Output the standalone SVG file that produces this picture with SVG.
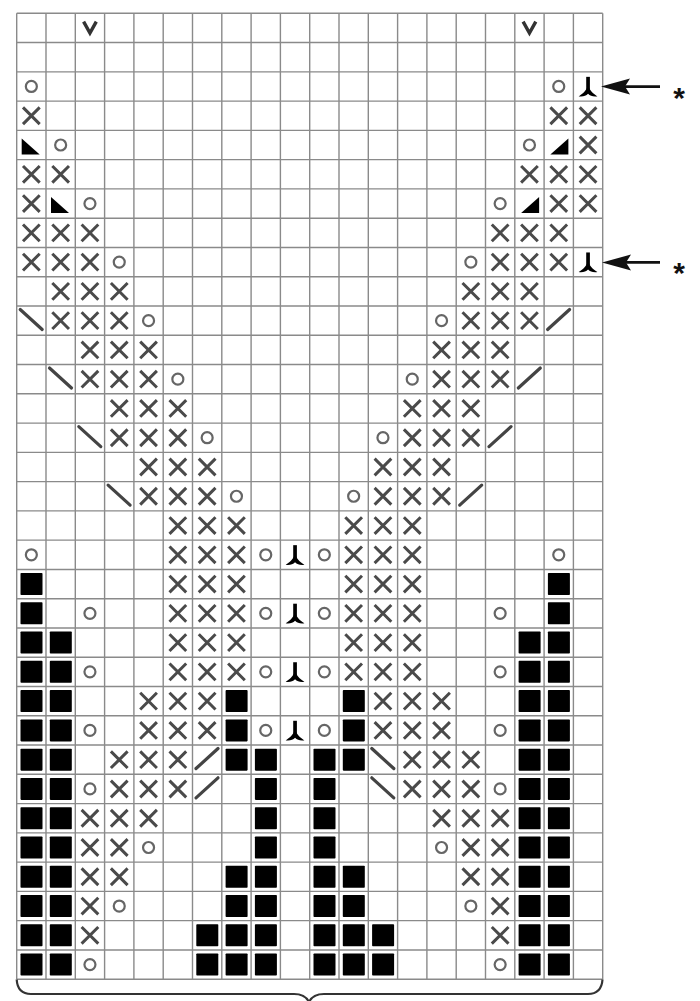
<svg xmlns="http://www.w3.org/2000/svg" width="700" height="1001" viewBox="0 0 700 1001">
<style>
.grid{stroke:#8a8a8a;stroke-width:1.4;fill:none}
.xs{stroke:#4a4a4a;stroke-width:3;fill:none;stroke-linecap:butt}
.os{stroke:#666;stroke-width:2.2;fill:none}
.vs{stroke:#333;stroke-width:3.4;fill:none;stroke-linejoin:miter}
.ds{stroke:#444;stroke-width:3.2;fill:none;stroke-linecap:round}
.blk{fill:#000}
.arr{stroke:#111;stroke-width:2.8;fill:none}
.ast{font-family:"Liberation Sans",Arial,sans-serif;font-size:30px;font-weight:bold;fill:#111}
.brace{stroke:#333;stroke-width:2.2;fill:none}
</style>
<defs>
<path id="X" class="xs" d="M6.3 6.3L23 23M23 6.3L6.3 23"/>
<circle id="O" class="os" cx="14.65" cy="14.63" r="5.5"/>
<path id="V" class="vs" d="M8.3 8.3L14.65 19.8L21 8.3"/>
<path id="TL" class="blk" d="M5 8L5 24L23 24Z"/>
<path id="TR" class="blk" d="M24.3 8L24.3 24L6.3 24Z"/>
<path id="BS" class="ds" d="M3.5 3.5L25.5 23.5"/>
<path id="FS" class="ds" d="M3.5 23.5L25.5 3.5"/>
<rect id="SQ" class="blk" x="3.8" y="3.6" width="22" height="22" rx="0.8"/>
<g id="Y">
<path class="blk" d="M12.8 5H16.5V18H12.8Z"/>
<path class="blk" d="M14.65 12.5C13.8 18 10.5 21 5.3 24.6C9.5 25.2 12.5 24.2 14.65 22C16.8 24.2 19.8 25.2 24 24.6C18.8 21 15.5 18 14.65 12.5Z"/>
</g>
</defs>
<rect x="0" y="0" width="700" height="1001" fill="#fff"/>
<g id="grid">
<path class="grid" d="M16.7 13.3V979.2M46 13.3V979.2M75.3 13.3V979.2M104.6 13.3V979.2M133.9 13.3V979.2M163.2 13.3V979.2M192.5 13.3V979.2M221.8 13.3V979.2M251.1 13.3V979.2M280.4 13.3V979.2M309.7 13.3V979.2M339 13.3V979.2M368.3 13.3V979.2M397.6 13.3V979.2M426.9 13.3V979.2M456.2 13.3V979.2M485.5 13.3V979.2M514.8 13.3V979.2M544.1 13.3V979.2M573.4 13.3V979.2M602.7 13.3V979.2"/>
<path class="grid" d="M16.7 13.3H602.7M16.7 42.57H602.7M16.7 71.84H602.7M16.7 101.11H602.7M16.7 130.38H602.7M16.7 159.65H602.7M16.7 188.92H602.7M16.7 218.19H602.7M16.7 247.46H602.7M16.7 276.73H602.7M16.7 306H602.7M16.7 335.27H602.7M16.7 364.54H602.7M16.7 393.81H602.7M16.7 423.08H602.7M16.7 452.35H602.7M16.7 481.62H602.7M16.7 510.89H602.7M16.7 540.16H602.7M16.7 569.43H602.7M16.7 598.7H602.7M16.7 627.97H602.7M16.7 657.24H602.7M16.7 686.51H602.7M16.7 715.78H602.7M16.7 745.05H602.7M16.7 774.32H602.7M16.7 803.59H602.7M16.7 832.86H602.7M16.7 862.13H602.7M16.7 891.4H602.7M16.7 920.67H602.7M16.7 949.94H602.7M16.7 979.21H602.7"/>
</g>
<g id="slipped">
<use href="#V" x="75.3" y="13.3"/><use href="#V" x="514.8" y="13.3"/>
</g>
<g id="yarnovers">
<use href="#O" x="16.7" y="71.84"/><use href="#O" x="544.1" y="71.84"/>
<use href="#O" x="46" y="130.38"/><use href="#O" x="514.8" y="130.38"/>
<use href="#O" x="75.3" y="188.92"/><use href="#O" x="485.5" y="188.92"/>
<use href="#O" x="104.6" y="247.46"/><use href="#O" x="456.2" y="247.46"/>
<use href="#O" x="133.9" y="306"/><use href="#O" x="426.9" y="306"/>
<use href="#O" x="163.2" y="364.54"/><use href="#O" x="397.6" y="364.54"/>
<use href="#O" x="192.5" y="423.08"/><use href="#O" x="368.3" y="423.08"/>
<use href="#O" x="221.8" y="481.62"/><use href="#O" x="339" y="481.62"/>
<use href="#O" x="16.7" y="540.16"/><use href="#O" x="251.1" y="540.16"/><use href="#O" x="309.7" y="540.16"/><use href="#O" x="544.1" y="540.16"/>
<use href="#O" x="75.3" y="598.7"/><use href="#O" x="251.1" y="598.7"/><use href="#O" x="309.7" y="598.7"/><use href="#O" x="485.5" y="598.7"/>
<use href="#O" x="75.3" y="657.24"/><use href="#O" x="251.1" y="657.24"/><use href="#O" x="309.7" y="657.24"/><use href="#O" x="485.5" y="657.24"/>
<use href="#O" x="75.3" y="715.78"/><use href="#O" x="251.1" y="715.78"/><use href="#O" x="309.7" y="715.78"/><use href="#O" x="485.5" y="715.78"/>
<use href="#O" x="75.3" y="774.32"/><use href="#O" x="485.5" y="774.32"/>
<use href="#O" x="133.9" y="832.86"/><use href="#O" x="426.9" y="832.86"/>
<use href="#O" x="104.6" y="891.4"/><use href="#O" x="456.2" y="891.4"/>
<use href="#O" x="75.3" y="949.94"/><use href="#O" x="485.5" y="949.94"/>
</g>
<g id="decreases">
<use href="#Y" x="573.4" y="71.84"/><use href="#Y" x="573.4" y="247.46"/>
<use href="#Y" x="280.4" y="540.16"/><use href="#Y" x="280.4" y="598.7"/><use href="#Y" x="280.4" y="657.24"/><use href="#Y" x="280.4" y="715.78"/>
<use href="#TL" x="16.7" y="130.38"/><use href="#TL" x="46" y="188.92"/>
<use href="#TR" x="544.1" y="130.38"/><use href="#TR" x="514.8" y="188.92"/>
<use href="#BS" x="16.7" y="306"/><use href="#BS" x="46" y="364.54"/><use href="#BS" x="75.3" y="423.08"/><use href="#BS" x="104.6" y="481.62"/>
<use href="#BS" x="368.3" y="745.05"/><use href="#BS" x="368.3" y="774.32"/>
<use href="#FS" x="544.1" y="306"/><use href="#FS" x="514.8" y="364.54"/><use href="#FS" x="485.5" y="423.08"/><use href="#FS" x="456.2" y="481.62"/>
<use href="#FS" x="192.5" y="745.05"/><use href="#FS" x="192.5" y="774.32"/>
</g>
<g id="crosses">
<use href="#X" x="16.7" y="101.11"/><use href="#X" x="544.1" y="101.11"/><use href="#X" x="573.4" y="101.11"/>
<use href="#X" x="573.4" y="130.38"/>
<use href="#X" x="16.7" y="159.65"/><use href="#X" x="46" y="159.65"/><use href="#X" x="514.8" y="159.65"/><use href="#X" x="544.1" y="159.65"/><use href="#X" x="573.4" y="159.65"/>
<use href="#X" x="16.7" y="188.92"/><use href="#X" x="544.1" y="188.92"/><use href="#X" x="573.4" y="188.92"/>
<use href="#X" x="16.7" y="218.19"/><use href="#X" x="46" y="218.19"/><use href="#X" x="75.3" y="218.19"/><use href="#X" x="485.5" y="218.19"/><use href="#X" x="514.8" y="218.19"/><use href="#X" x="544.1" y="218.19"/>
<use href="#X" x="16.7" y="247.46"/><use href="#X" x="46" y="247.46"/><use href="#X" x="75.3" y="247.46"/><use href="#X" x="485.5" y="247.46"/><use href="#X" x="514.8" y="247.46"/><use href="#X" x="544.1" y="247.46"/>
<use href="#X" x="46" y="276.73"/><use href="#X" x="75.3" y="276.73"/><use href="#X" x="104.6" y="276.73"/><use href="#X" x="456.2" y="276.73"/><use href="#X" x="485.5" y="276.73"/><use href="#X" x="514.8" y="276.73"/>
<use href="#X" x="46" y="306"/><use href="#X" x="75.3" y="306"/><use href="#X" x="104.6" y="306"/><use href="#X" x="456.2" y="306"/><use href="#X" x="485.5" y="306"/><use href="#X" x="514.8" y="306"/>
<use href="#X" x="75.3" y="335.27"/><use href="#X" x="104.6" y="335.27"/><use href="#X" x="133.9" y="335.27"/><use href="#X" x="426.9" y="335.27"/><use href="#X" x="456.2" y="335.27"/><use href="#X" x="485.5" y="335.27"/>
<use href="#X" x="75.3" y="364.54"/><use href="#X" x="104.6" y="364.54"/><use href="#X" x="133.9" y="364.54"/><use href="#X" x="426.9" y="364.54"/><use href="#X" x="456.2" y="364.54"/><use href="#X" x="485.5" y="364.54"/>
<use href="#X" x="104.6" y="393.81"/><use href="#X" x="133.9" y="393.81"/><use href="#X" x="163.2" y="393.81"/><use href="#X" x="397.6" y="393.81"/><use href="#X" x="426.9" y="393.81"/><use href="#X" x="456.2" y="393.81"/>
<use href="#X" x="104.6" y="423.08"/><use href="#X" x="133.9" y="423.08"/><use href="#X" x="163.2" y="423.08"/><use href="#X" x="397.6" y="423.08"/><use href="#X" x="426.9" y="423.08"/><use href="#X" x="456.2" y="423.08"/>
<use href="#X" x="133.9" y="452.35"/><use href="#X" x="163.2" y="452.35"/><use href="#X" x="192.5" y="452.35"/><use href="#X" x="368.3" y="452.35"/><use href="#X" x="397.6" y="452.35"/><use href="#X" x="426.9" y="452.35"/>
<use href="#X" x="133.9" y="481.62"/><use href="#X" x="163.2" y="481.62"/><use href="#X" x="192.5" y="481.62"/><use href="#X" x="368.3" y="481.62"/><use href="#X" x="397.6" y="481.62"/><use href="#X" x="426.9" y="481.62"/>
<use href="#X" x="163.2" y="510.89"/><use href="#X" x="192.5" y="510.89"/><use href="#X" x="221.8" y="510.89"/><use href="#X" x="339" y="510.89"/><use href="#X" x="368.3" y="510.89"/><use href="#X" x="397.6" y="510.89"/>
<use href="#X" x="163.2" y="540.16"/><use href="#X" x="192.5" y="540.16"/><use href="#X" x="221.8" y="540.16"/><use href="#X" x="339" y="540.16"/><use href="#X" x="368.3" y="540.16"/><use href="#X" x="397.6" y="540.16"/>
<use href="#X" x="163.2" y="569.43"/><use href="#X" x="192.5" y="569.43"/><use href="#X" x="221.8" y="569.43"/><use href="#X" x="339" y="569.43"/><use href="#X" x="368.3" y="569.43"/><use href="#X" x="397.6" y="569.43"/>
<use href="#X" x="163.2" y="598.7"/><use href="#X" x="192.5" y="598.7"/><use href="#X" x="221.8" y="598.7"/><use href="#X" x="339" y="598.7"/><use href="#X" x="368.3" y="598.7"/><use href="#X" x="397.6" y="598.7"/>
<use href="#X" x="163.2" y="627.97"/><use href="#X" x="192.5" y="627.97"/><use href="#X" x="221.8" y="627.97"/><use href="#X" x="339" y="627.97"/><use href="#X" x="368.3" y="627.97"/><use href="#X" x="397.6" y="627.97"/>
<use href="#X" x="163.2" y="657.24"/><use href="#X" x="192.5" y="657.24"/><use href="#X" x="221.8" y="657.24"/><use href="#X" x="339" y="657.24"/><use href="#X" x="368.3" y="657.24"/><use href="#X" x="397.6" y="657.24"/>
<use href="#X" x="133.9" y="686.51"/><use href="#X" x="163.2" y="686.51"/><use href="#X" x="192.5" y="686.51"/><use href="#X" x="368.3" y="686.51"/><use href="#X" x="397.6" y="686.51"/><use href="#X" x="426.9" y="686.51"/>
<use href="#X" x="133.9" y="715.78"/><use href="#X" x="163.2" y="715.78"/><use href="#X" x="192.5" y="715.78"/><use href="#X" x="368.3" y="715.78"/><use href="#X" x="397.6" y="715.78"/><use href="#X" x="426.9" y="715.78"/>
<use href="#X" x="104.6" y="745.05"/><use href="#X" x="133.9" y="745.05"/><use href="#X" x="163.2" y="745.05"/><use href="#X" x="397.6" y="745.05"/><use href="#X" x="426.9" y="745.05"/><use href="#X" x="456.2" y="745.05"/>
<use href="#X" x="104.6" y="774.32"/><use href="#X" x="133.9" y="774.32"/><use href="#X" x="163.2" y="774.32"/><use href="#X" x="397.6" y="774.32"/><use href="#X" x="426.9" y="774.32"/><use href="#X" x="456.2" y="774.32"/>
<use href="#X" x="75.3" y="803.59"/><use href="#X" x="104.6" y="803.59"/><use href="#X" x="133.9" y="803.59"/><use href="#X" x="426.9" y="803.59"/><use href="#X" x="456.2" y="803.59"/><use href="#X" x="485.5" y="803.59"/>
<use href="#X" x="75.3" y="832.86"/><use href="#X" x="104.6" y="832.86"/><use href="#X" x="456.2" y="832.86"/><use href="#X" x="485.5" y="832.86"/>
<use href="#X" x="75.3" y="862.13"/><use href="#X" x="104.6" y="862.13"/><use href="#X" x="456.2" y="862.13"/><use href="#X" x="485.5" y="862.13"/>
<use href="#X" x="75.3" y="891.4"/><use href="#X" x="485.5" y="891.4"/>
<use href="#X" x="75.3" y="920.67"/><use href="#X" x="485.5" y="920.67"/>
</g>
<g id="squares">
<use href="#SQ" x="16.7" y="569.43"/><use href="#SQ" x="544.1" y="569.43"/>
<use href="#SQ" x="16.7" y="598.7"/><use href="#SQ" x="544.1" y="598.7"/>
<use href="#SQ" x="16.7" y="627.97"/><use href="#SQ" x="46" y="627.97"/><use href="#SQ" x="514.8" y="627.97"/><use href="#SQ" x="544.1" y="627.97"/>
<use href="#SQ" x="16.7" y="657.24"/><use href="#SQ" x="46" y="657.24"/><use href="#SQ" x="514.8" y="657.24"/><use href="#SQ" x="544.1" y="657.24"/>
<use href="#SQ" x="16.7" y="686.51"/><use href="#SQ" x="46" y="686.51"/><use href="#SQ" x="221.8" y="686.51"/><use href="#SQ" x="339" y="686.51"/><use href="#SQ" x="514.8" y="686.51"/><use href="#SQ" x="544.1" y="686.51"/>
<use href="#SQ" x="16.7" y="715.78"/><use href="#SQ" x="46" y="715.78"/><use href="#SQ" x="221.8" y="715.78"/><use href="#SQ" x="339" y="715.78"/><use href="#SQ" x="514.8" y="715.78"/><use href="#SQ" x="544.1" y="715.78"/>
<use href="#SQ" x="16.7" y="745.05"/><use href="#SQ" x="46" y="745.05"/><use href="#SQ" x="221.8" y="745.05"/><use href="#SQ" x="251.1" y="745.05"/><use href="#SQ" x="309.7" y="745.05"/><use href="#SQ" x="339" y="745.05"/><use href="#SQ" x="514.8" y="745.05"/><use href="#SQ" x="544.1" y="745.05"/>
<use href="#SQ" x="16.7" y="774.32"/><use href="#SQ" x="46" y="774.32"/><use href="#SQ" x="251.1" y="774.32"/><use href="#SQ" x="309.7" y="774.32"/><use href="#SQ" x="514.8" y="774.32"/><use href="#SQ" x="544.1" y="774.32"/>
<use href="#SQ" x="16.7" y="803.59"/><use href="#SQ" x="46" y="803.59"/><use href="#SQ" x="251.1" y="803.59"/><use href="#SQ" x="309.7" y="803.59"/><use href="#SQ" x="514.8" y="803.59"/><use href="#SQ" x="544.1" y="803.59"/>
<use href="#SQ" x="16.7" y="832.86"/><use href="#SQ" x="46" y="832.86"/><use href="#SQ" x="251.1" y="832.86"/><use href="#SQ" x="309.7" y="832.86"/><use href="#SQ" x="514.8" y="832.86"/><use href="#SQ" x="544.1" y="832.86"/>
<use href="#SQ" x="16.7" y="862.13"/><use href="#SQ" x="46" y="862.13"/><use href="#SQ" x="221.8" y="862.13"/><use href="#SQ" x="251.1" y="862.13"/><use href="#SQ" x="309.7" y="862.13"/><use href="#SQ" x="339" y="862.13"/><use href="#SQ" x="514.8" y="862.13"/><use href="#SQ" x="544.1" y="862.13"/>
<use href="#SQ" x="16.7" y="891.4"/><use href="#SQ" x="46" y="891.4"/><use href="#SQ" x="221.8" y="891.4"/><use href="#SQ" x="251.1" y="891.4"/><use href="#SQ" x="309.7" y="891.4"/><use href="#SQ" x="339" y="891.4"/><use href="#SQ" x="514.8" y="891.4"/><use href="#SQ" x="544.1" y="891.4"/>
<use href="#SQ" x="16.7" y="920.67"/><use href="#SQ" x="46" y="920.67"/><use href="#SQ" x="192.5" y="920.67"/><use href="#SQ" x="221.8" y="920.67"/><use href="#SQ" x="251.1" y="920.67"/><use href="#SQ" x="309.7" y="920.67"/><use href="#SQ" x="339" y="920.67"/><use href="#SQ" x="368.3" y="920.67"/><use href="#SQ" x="514.8" y="920.67"/><use href="#SQ" x="544.1" y="920.67"/>
<use href="#SQ" x="16.7" y="949.94"/><use href="#SQ" x="46" y="949.94"/><use href="#SQ" x="192.5" y="949.94"/><use href="#SQ" x="221.8" y="949.94"/><use href="#SQ" x="251.1" y="949.94"/><use href="#SQ" x="309.7" y="949.94"/><use href="#SQ" x="339" y="949.94"/><use href="#SQ" x="368.3" y="949.94"/><use href="#SQ" x="514.8" y="949.94"/><use href="#SQ" x="544.1" y="949.94"/>
</g>
<g id="arrows">
<path class="arr" d="M622 86.6H660"/>
<path d="M601 86.6L630 78.6L625 86.6L630 94.6Z" fill="#111"/>
<path class="arr" d="M622 262.4H660"/>
<path d="M602 262.4L631 254.4L626 262.4L631 270.4Z" fill="#111"/>
</g>
<g id="marks">
<text class="ast" x="679" y="108" text-anchor="middle">*</text>
<text class="ast" x="679" y="283" text-anchor="middle">*</text>
</g>
<path id="brace" class="brace" d="M16.7 979.5Q17.5 994 31 994H294Q305 994 309 1002Q313 994 324 994H588Q601.5 994 602.5 979.5"/>
</svg>
